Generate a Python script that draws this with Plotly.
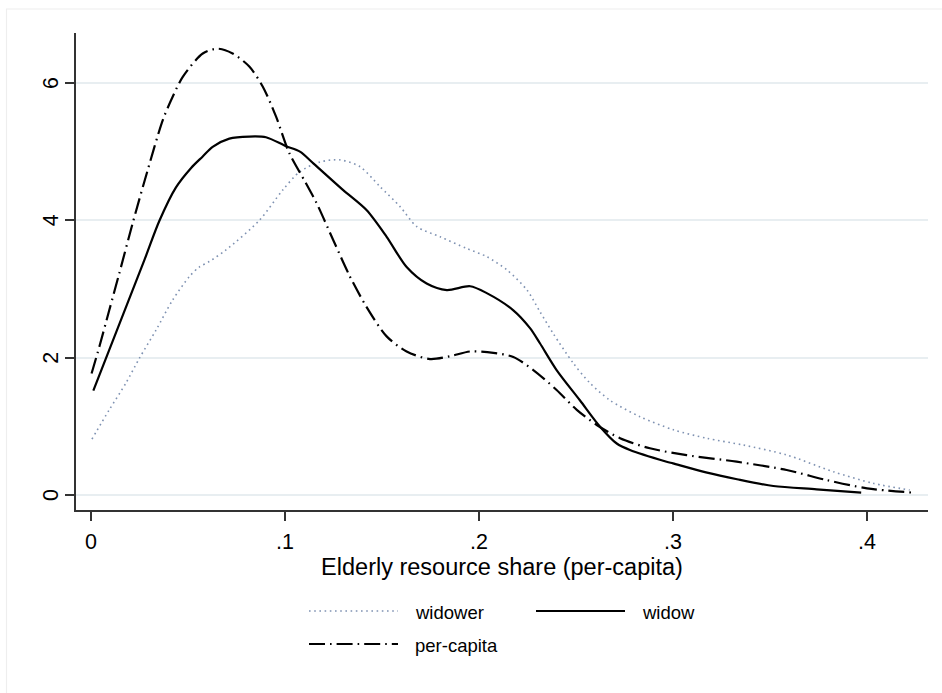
import plotly.graph_objects as go

# Kernel density estimates of the elderly resource share (per-capita)
widower_x = [0.0005, 0.0094, 0.018, 0.0249, 0.0335, 0.0421, 0.0507, 0.0558, 0.061, 0.0696,
             0.0868, 0.0988, 0.1077, 0.118, 0.1284, 0.1387, 0.149, 0.1593, 0.1679, 0.180,
             0.1937, 0.204, 0.2143, 0.2246, 0.2314, 0.2383, 0.2486, 0.2572, 0.2675, 0.283,
             0.3002, 0.3174, 0.3362, 0.3586, 0.3826, 0.4032, 0.422]
widower_y = [0.815, 1.24, 1.63, 1.99, 2.40, 2.84, 3.18, 3.32, 3.40, 3.57,
             4.00, 4.44, 4.71, 4.85, 4.88, 4.78, 4.49, 4.20, 3.91, 3.76,
             3.59, 3.47, 3.28, 2.99, 2.67, 2.35, 1.92, 1.63, 1.38, 1.14,
             0.95, 0.826, 0.728, 0.583, 0.34, 0.17, 0.073]

widow_x = [0.0012, 0.0275, 0.0352, 0.0438, 0.0515, 0.0576, 0.0627, 0.0713, 0.0816, 0.0902,
           0.1005, 0.1077, 0.1146, 0.130, 0.142, 0.1524, 0.1627, 0.173, 0.1834, 0.1954,
           0.204, 0.2177, 0.2263, 0.2314, 0.240, 0.252, 0.2624, 0.271, 0.2778, 0.2967,
           0.3, 0.317, 0.333, 0.3517, 0.374, 0.397]
widow_y = [1.52, 3.42, 3.99, 4.48, 4.76, 4.93, 5.07, 5.19, 5.22, 5.21,
           5.08, 5.00, 4.83, 4.44, 4.15, 3.76, 3.32, 3.08, 2.985, 3.04,
           2.94, 2.69, 2.43, 2.21, 1.82, 1.38, 0.995, 0.75, 0.655, 0.485,
           0.46, 0.33, 0.23, 0.131, 0.083, 0.034]

percap_x = [0.0003, 0.0043, 0.0094, 0.0146, 0.0215, 0.0292, 0.037, 0.0421, 0.0473, 0.0576,
            0.0653, 0.073, 0.0816, 0.0885, 0.0954, 0.1022, 0.1108, 0.1163, 0.1249, 0.1335,
            0.142, 0.1524, 0.1627, 0.1747, 0.185, 0.1954, 0.2074, 0.2177, 0.228, 0.240,
            0.2504, 0.2607, 0.2727, 0.2881, 0.307, 0.3328, 0.3586, 0.3792, 0.40, 0.424]
percap_y = [1.77, 2.16, 2.69, 3.23, 3.96, 4.73, 5.46, 5.80, 6.09, 6.43,
            6.50, 6.43, 6.24, 5.95, 5.51, 4.98, 4.54, 4.25, 3.71, 3.18,
            2.74, 2.31, 2.09, 1.98, 2.02, 2.09, 2.07, 2.01, 1.82, 1.53,
            1.24, 1.02, 0.826, 0.68, 0.58, 0.485, 0.364, 0.218, 0.097, 0.034]

x_ticks = [0, 0.1, 0.2, 0.3, 0.4]
x_tick_labels = ["0", ".1", ".2", ".3", ".4"]
y_ticks = [0, 2, 4, 6]
y_tick_labels = ["0", "2", "4", "6"]

FONT = "Liberation Sans, Arial, Helvetica, sans-serif"
W, H = 942, 693
L, R, T, B = 76, 928, 33, 510   # plot area in pixels

DOT_COLOR = "#7f92b2"
styles = {
    "widower": dict(color=DOT_COLOR, width=1.6, dash="1.6px,3.6px"),
    "widow": dict(color="#000000", width=2.2, dash="solid"),
    "per-capita": dict(color="#000000", width=2.2, dash="16px,5px,1.6px,5px"),
}

fig = go.Figure()
for name, xs, ys in [("widower", widower_x, widower_y),
                     ("widow", widow_x, widow_y),
                     ("per-capita", percap_x, percap_y)]:
    fig.add_trace(go.Scatter(x=xs, y=ys, mode="lines", name=name,
                             line=dict(shape="spline", smoothing=0.8, **styles[name]),
                             showlegend=False))


def px_x(p):
    return (p - L) / (R - L)


def px_y(p):
    return (B - p) / (B - T)


shapes = []
annotations = []

# faint outer frame around the graph region
shapes.append(dict(type="rect", xref="paper", yref="paper",
                   x0=px_x(6.5), x1=px_x(960), y0=px_y(9), y1=px_y(720),
                   line=dict(color="#eeeeee", width=1.2), fillcolor="rgba(0,0,0,0)",
                   layer="below"))

# legend: line samples with labels, two columns
legend_rows = [("widower", 309, 398, 611, 413),
               ("widow", 536, 625, 611, 640),
               ("per-capita", 309, 398, 644, 413)]
for name, x0, x1, y, tx in legend_rows:
    st = styles[name]
    shapes.append(dict(type="line", xref="paper", yref="paper",
                       x0=px_x(x0), x1=px_x(x1), y0=px_y(y), y1=px_y(y),
                       line=dict(color=st["color"], width=st["width"], dash=st["dash"])))
    annotations.append(dict(text=name, xref="paper", yref="paper",
                            x=px_x(tx), y=px_y(y + 1), xanchor="left", yanchor="middle",
                            showarrow=False, font=dict(family=FONT, size=18.5, color="#000")))

# vertical y-axis tick labels placed next to the tick marks
for v, t in zip(y_ticks, y_tick_labels):
    annotations.append(dict(text=t, xref="paper", yref="y", x=px_x(51), y=v,
                            xanchor="center", yanchor="middle", textangle=-90,
                            showarrow=False, font=dict(family=FONT, size=21.5, color="#000")))

fig.update_layout(
    width=W, height=H,
    margin=dict(l=L, r=W - R, t=T, b=H - B, autoexpand=False),
    paper_bgcolor="white", plot_bgcolor="white",
    shapes=shapes, annotations=annotations,
    font=dict(family=FONT, color="#000"),
)

x0_px, x4_px = 91, 867
x_per_px = 0.4 / (x4_px - x0_px)
y0_px, y6_px = 495, 83
y_per_px = 6 / (y0_px - y6_px)

fig.update_xaxes(
    range=[(L - x0_px) * x_per_px, (R - x0_px) * x_per_px],
    tickvals=x_ticks, ticktext=x_tick_labels,
    ticks="outside", ticklen=9, tickwidth=1.5, tickcolor="#333",
    showline=True, linecolor="#333", linewidth=1.6,
    showgrid=False, zeroline=False,
    tickfont=dict(family=FONT, size=21.5, color="#000"),
    ticklabelstandoff=2,
    title=dict(text="Elderly resource share (per-capita)",
               font=dict(family=FONT, size=23.5, color="#000"), standoff=3),
    automargin=False,
)
fig.update_yaxes(
    range=[(y0_px - B) * y_per_px, (y0_px - T) * y_per_px],
    tickvals=y_ticks, showticklabels=False,
    ticks="outside", ticklen=9, tickwidth=1.5, tickcolor="#333",
    showline=True, linecolor="#333", linewidth=1.6,
    showgrid=True, gridcolor="#e8eef1", gridwidth=1.6, zeroline=False,
    automargin=False,
)

fig.write_html("out.html")
